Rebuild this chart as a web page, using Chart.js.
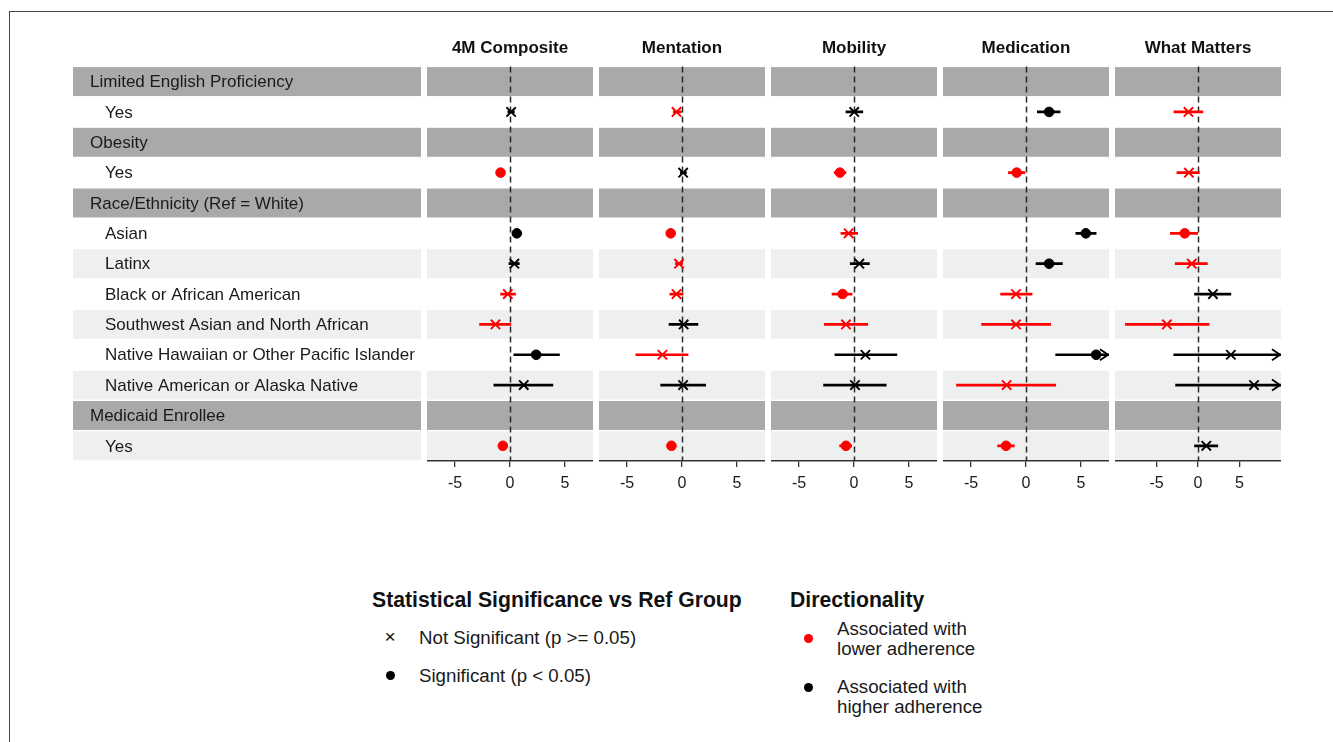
<!DOCTYPE html>
<html><head><meta charset="utf-8">
<script src="https://cdn.jsdelivr.net/npm/chart.js@4"></script>
<style>
html,body{margin:0;padding:0;background:#fff;}
body{width:1333px;height:742px;position:relative;overflow:hidden;font-family:'Liberation Sans',Arial,sans-serif;color:#1a1a1a;}
#frame{position:absolute;left:9px;top:11px;width:1330px;height:740px;border-left:1px solid #444;border-top:1px solid #444;}
canvas{position:absolute;}
.legt{position:absolute;font-size:21.2px;line-height:22px;font-weight:bold;white-space:nowrap;color:#111;}
.leg{position:absolute;font-size:18.7px;line-height:20px;white-space:nowrap;color:#1a1a1a;}
.sym{position:absolute;width:20px;text-align:center;font-size:19px;line-height:20px;color:#111;}
.dot{position:absolute;width:9px;height:9px;border-radius:50%;}
</style></head><body>
<div id="frame"></div>
<div id="wrap"></div>
<div class="legt" style="left:372px;top:589px;">Statistical Significance vs Ref Group</div>
<div class="sym" style="left:380px;top:627px;">×</div>
<div class="leg" style="left:419px;top:628px;">Not Significant (p &gt;= 0.05)</div>
<div class="dot" style="left:386px;top:671px;background:#000;"></div>
<div class="leg" style="left:419px;top:666px;">Significant (p &lt; 0.05)</div>
<div class="legt" style="left:790px;top:589px;">Directionality</div>
<div class="dot" style="left:804px;top:634px;background:#ff0000;"></div>
<div class="leg" style="left:837px;top:619px;">Associated with<br>lower adherence</div>
<div class="dot" style="left:804px;top:683px;background:#000;"></div>
<div class="leg" style="left:837px;top:677px;">Associated with<br>higher adherence</div>
<script>
// ---------- DATA ----------
const rowLabels = ['Limited English Proficiency','Yes','Obesity','Yes','Race/Ethnicity (Ref = White)','Asian','Latinx','Black or African American','Southwest Asian and North African','Native Hawaiian or Other Pacific Islander','Native American or Alaska Native','Medicaid Enrollee','Yes'];
const headerRows = [true,false,true,false,true,false,false,false,false,false,false,true,false];
const outcomes = ['4M Composite','Mentation','Mobility','Medication','What Matters'];
const axisLimits = [7.55,7.55,7.55,7.55,10];
const tickValues = [-5,0,5];

const compositeEst = [null,0.1,null,-0.86,null,0.62,0.4,-0.2,-1.32,2.38,1.25,null,-0.65];
const compositeLo  = [null,-0.2,null,-1.05,null,0.25,-0.1,-0.86,-2.77,0.35,-1.47,null,-0.85];
const compositeHi  = [null,0.4,null,-0.67,null,1.0,0.85,0.5,0.08,4.5,3.9,null,-0.45];
const compositeSig = [null,0,null,1,null,1,0,0,0,1,0,null,1];

const mentationEst = [null,-0.5,null,0.1,null,-1.03,-0.27,-0.5,0.15,-1.78,0.1,null,-0.96];
const mentationLo  = [null,-0.8,null,-0.15,null,-1.3,-0.6,-1.1,-1.18,-4.2,-1.94,null,-1.2];
const mentationHi  = [null,0.0,null,0.4,null,-0.75,0.05,0.1,1.45,0.55,2.15,null,-0.72];
const mentationSig = [null,0,null,0,null,1,0,0,0,0,0,null,1];

const mobilityEst = [null,0.02,null,-1.28,null,-0.49,0.49,-1.04,-0.73,1.04,0.09,null,-0.73];
const mobilityLo  = [null,-0.73,null,-1.8,null,-1.19,-0.34,-2.0,-2.7,-1.74,-2.77,null,-1.31];
const mobilityHi  = [null,0.8,null,-0.73,null,0.34,1.4,-0.18,1.25,3.9,2.93,null,-0.21];
const mobilitySig = [null,0,null,1,null,0,0,1,0,0,0,null,1];

const medicationEst = [null,2.1,null,-0.85,null,5.44,2.1,-0.91,-0.91,6.38,-1.76,null,-1.82];
const medicationLo  = [null,1.03,null,-1.6,null,4.53,0.91,-2.31,-4.04,2.7,-6.32,null,-2.58];
const medicationHi  = [null,3.1,null,-0.1,null,6.38,3.31,0.55,2.25,10.1,2.7,null,-1.06];
const medicationSig = [null,1,null,1,null,1,1,0,0,1,0,null,1];

const whatMattersEst = [null,-1.15,null,-1.1,null,-1.6,-0.75,1.8,-3.75,3.96,6.75,null,1.0];
const whatMattersLo  = [null,-2.9,null,-2.54,null,-3.33,-2.75,-0.42,-8.75,-2.92,-2.7,null,-0.42];
const whatMattersHi  = [null,0.58,null,0.17,null,-0.04,1.13,3.96,1.33,10.8,16.2,null,2.38];
const whatMattersSig = [null,0,null,0,null,1,0,0,0,0,0,null,0];

const panels = [
  {est:compositeEst, lo:compositeLo, hi:compositeHi, sig:compositeSig},
  {est:mentationEst, lo:mentationLo, hi:mentationHi, sig:mentationSig},
  {est:mobilityEst, lo:mobilityLo, hi:mobilityHi, sig:mobilitySig},
  {est:medicationEst, lo:medicationLo, hi:medicationHi, sig:medicationSig},
  {est:whatMattersEst, lo:whatMattersLo, hi:whatMattersHi, sig:whatMattersSig}
];

// ---------- STYLE ----------
const HEADER_COLOR = '#a9a9a9';
const LIGHT_COLOR = '#eef0ef';
const RED = '#ff0000';
const BLACK = '#000000';
const FONT = "'Liberation Sans', Arial, sans-serif";
const CANVAS_TOP = 36, CANVAS_H = 460;

const bandsPlugin = {
  id: 'bands',
  beforeDraw(chart) {
    const {ctx, chartArea: a, scales: {y}} = chart;
    const h = (a.bottom - a.top) / rowLabels.length;
    ctx.save();
    rowLabels.forEach((lab, i) => {
      const col = headerRows[i] ? HEADER_COLOR : (i % 2 === 0 ? LIGHT_COLOR : null);
      if (!col) return;
      const c = y.getPixelForValue(i);
      ctx.fillStyle = col;
      ctx.fillRect(a.left, c - h / 2 + 0.7, a.right - a.left, h - 1.4);
    });
    ctx.restore();
  }
};

const zeroPlugin = {
  id: 'zeroLine',
  beforeDatasetsDraw(chart) {
    const {ctx, chartArea: a, scales: {x}} = chart;
    const px = Math.round(x.getPixelForValue(0)) + 0.5;
    ctx.save();
    ctx.strokeStyle = '#2a2a2a';
    ctx.lineWidth = 1.5;
    ctx.setLineDash([6, 4]);
    ctx.beginPath();
    ctx.moveTo(px, a.top);
    ctx.lineTo(px, a.bottom);
    ctx.stroke();
    ctx.restore();
  }
};

const arrowPlugin = {
  id: 'arrows',
  afterDatasetsDraw(chart, args, opts) {
    const {ctx, chartArea: a, scales: {x, y}} = chart;
    const p = opts.panel;
    if (!p) return;
    ctx.save();
    ctx.lineWidth = 1.8;
    p.hi.forEach((v, i) => {
      if (v == null || v <= x.max) return;
      const py = y.getPixelForValue(i);
      const px = a.right - 1;
      ctx.strokeStyle = p.est[i] < 0 ? RED : BLACK;
      ctx.beginPath();
      ctx.moveTo(px - 8, py - 5.5);
      ctx.lineTo(px, py);
      ctx.lineTo(px - 8, py + 5.5);
      ctx.stroke();
    });
    ctx.restore();
  }
};

const labelPlugin = {
  id: 'rowLabels',
  afterDraw(chart) {
    const {ctx, chartArea: a, scales: {y}} = chart;
    ctx.save();
    ctx.font = "17px " + FONT;
    ctx.fillStyle = '#1a1a1a';
    ctx.textBaseline = 'middle';
    ctx.textAlign = 'left';
    rowLabels.forEach((lab, i) => {
      ctx.fillText(lab, a.left + (headerRows[i] ? 17 : 32), y.getPixelForValue(i) + 1);
    });
    ctx.restore();
  }
};

const wrap = document.getElementById('wrap');
function makeCanvas(left, width) {
  const c = document.createElement('canvas');
  c.width = width; c.height = CANVAS_H;
  c.style.left = left + 'px'; c.style.top = CANVAS_TOP + 'px';
  c.style.width = width + 'px'; c.style.height = CANVAS_H + 'px';
  wrap.appendChild(c);
  return c;
}

const titleOpts = (text) => ({display: true, text, color: '#111',
  font: {family: FONT, size: 17, weight: 'bold', lineHeight: 1.2}, padding: {top: 2, bottom: 8}});

function fixAxis(s) { s.height = 35; s.paddingLeft = 0; s.paddingRight = 0; }

// label column
new Chart(makeCanvas(73, 348), {
  type: 'bar',
  data: {labels: rowLabels, datasets: []},
  options: {
    indexAxis: 'y', responsive: false, animation: false, events: [],
    layout: {padding: 0, autoPadding: false},
    plugins: {legend: {display: false}, tooltip: {enabled: false}, title: Object.assign(titleOpts(' '), {color: 'rgba(0,0,0,0)'})},
    scales: {
      x: {display: true, afterFit: fixAxis, grid: {display: false}, border: {display: false}, ticks: {display: false}},
      y: {type: 'category', display: false, offset: true}
    }
  },
  plugins: [bandsPlugin, labelPlugin]
});

outcomes.forEach((name, k) => {
  const p = panels[k];
  const cols = p.est.map(v => v == null ? BLACK : (v < 0 ? RED : BLACK));
  const lim = axisLimits[k];
  new Chart(makeCanvas(427 + k * 172, 166), {
    type: 'bar',
    data: {
      labels: rowLabels,
      datasets: [
        {type: 'line', data: p.est, showLine: false, order: 0, clip: 10,
         pointStyle: p.sig.map(s => s ? 'circle' : 'crossRot'),
         pointRadius: p.sig.map(s => s ? 4.8 : 6.6),
         pointBorderWidth: p.sig.map(s => s ? 1 : 1.9),
         pointBackgroundColor: cols, pointBorderColor: cols},
        {type: 'bar', data: p.est.map((v, i) => v == null ? null : [p.lo[i], p.hi[i]]),
         backgroundColor: cols, barThickness: 2, borderWidth: 0, order: 1}
      ]
    },
    options: {
      indexAxis: 'y', responsive: false, animation: false, events: [],
      layout: {padding: 0, autoPadding: false},
      plugins: {legend: {display: false}, tooltip: {enabled: false}, title: titleOpts(name), arrows: {panel: p}},
      scales: {
        x: {type: 'linear', min: -lim, max: lim,
            afterFit: fixAxis,
            afterBuildTicks(s) { s.ticks = tickValues.map(v => ({value: v})); },
            grid: {drawOnChartArea: false, drawTicks: true, tickLength: 6, color: '#333', lineWidth: 1.3},
            border: {display: true, color: '#333', width: 1.5},
            ticks: {font: {family: FONT, size: 16}, color: '#1a1a1a', padding: 7, maxRotation: 0, autoSkip: false}},
        y: {type: 'category', display: false, offset: true}
      }
    },
    plugins: [bandsPlugin, zeroPlugin, arrowPlugin]
  });
});
</script>
</body></html>
